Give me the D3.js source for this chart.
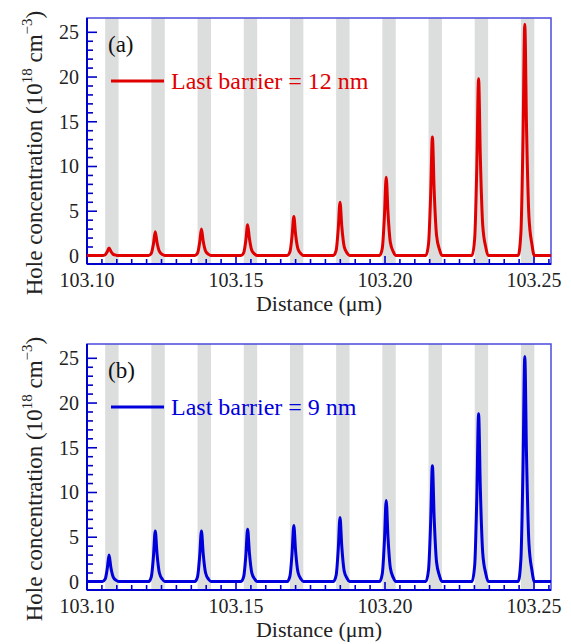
<!DOCTYPE html>
<html>
<head>
<meta charset="utf-8">
<script src="https://cdn.jsdelivr.net/npm/d3@7"></script>
<style>
  body { margin: 0; background: #fff; }
  svg { display: block; }
  text { font-family: "Liberation Serif", "Times New Roman", serif; }
</style>
</head>
<body>
<div id="chart"></div>
<script>
// x tick labels and y ticks
const xTicks = [103.10, 103.15, 103.20, 103.25];
const yTicks = [0, 5, 10, 15, 20, 25];

// grey bands (start / end in um)
const wellStart = [103.1061, 103.1216, 103.1371, 103.1526, 103.1681, 103.1836, 103.1991, 103.2146, 103.2301, 103.2456];
const wellEnd   = [103.1106, 103.1261, 103.1416, 103.1571, 103.1726, 103.1881, 103.2036, 103.2191, 103.2346, 103.2501];

// peak centres and the sample offsets around each centre
const peakX = [103.1074, 103.1229, 103.1384, 103.1539, 103.1694, 103.1849, 103.2004, 103.2159, 103.2314, 103.2469];
const peakOffset = [-0.0022, -0.0013, -0.0006, 0, 0.0006, 0.0014, 0.0024, 0.0032];

// hole concentration read around each peak, last barrier = 12 nm
const peaksA = [
  [0.05, 0.14, 0.47, 0.9, 0.52, 0.18, 0.08, 0.05],
  [0.05, 0.3, 1.35, 2.7, 1.5, 0.5, 0.15, 0.05],
  [0.05, 0.32, 1.5, 3.0, 1.65, 0.55, 0.17, 0.05],
  [0.05, 0.37, 1.75, 3.5, 1.95, 0.62, 0.2, 0.05],
  [0.05, 0.46, 2.2, 4.4, 2.4, 0.77, 0.24, 0.05],
  [0.05, 0.62, 3.0, 6.0, 3.3, 1.05, 0.32, 0.05],
  [0.05, 0.9, 4.4, 8.8, 4.85, 1.5, 0.46, 0.05],
  [0.05, 1.35, 6.65, 13.3, 7.3, 2.3, 0.7, 0.05],
  [0.05, 2.0, 9.9, 19.8, 10.9, 3.4, 1.0, 0.05],
  [0.05, 2.6, 12.9, 25.9, 14.2, 4.4, 1.3, 0.05]
];
// last barrier = 9 nm
const peaksB = [
  [0.05, 0.32, 1.5, 3.0, 1.65, 0.55, 0.17, 0.05],
  [0.05, 0.6, 2.85, 5.7, 3.15, 1.0, 0.3, 0.05],
  [0.05, 0.6, 2.85, 5.7, 3.15, 1.0, 0.3, 0.05],
  [0.05, 0.62, 2.95, 5.9, 3.25, 1.02, 0.31, 0.05],
  [0.05, 0.66, 3.15, 6.3, 3.45, 1.08, 0.33, 0.05],
  [0.05, 0.75, 3.6, 7.2, 3.95, 1.23, 0.38, 0.05],
  [0.05, 0.95, 4.55, 9.1, 5.0, 1.55, 0.47, 0.05],
  [0.05, 1.35, 6.5, 13.0, 7.15, 2.2, 0.67, 0.05],
  [0.05, 1.9, 9.4, 18.8, 10.3, 3.2, 0.96, 0.05],
  [0.05, 2.55, 12.6, 25.2, 13.9, 4.3, 1.3, 0.05]
];

const xDomain = [103.10, 103.2557];
const yDomain = [-0.9, 26.6];

const svg = d3.select("#chart").append("svg")
    .attr("width", 571)
    .attr("height", 644);

function buildSeries(peaks) {
    const pts = [[xDomain[0], 0.05]];
    peaks.forEach((vals, i) => {
        vals.forEach((v, j) => pts.push([peakX[i] + peakOffset[j], v]));
    });
    pts.push([xDomain[1], 0.05]);
    return pts;
}

function drawPanel(opt) {
    const left = 87, right = 551;
    const top = opt.top, bottom = opt.top + 246;

    const x = d3.scaleLinear().domain(xDomain).range([left, right]);
    const y = d3.scaleLinear().domain(yDomain).range([bottom, top]);

    const g = svg.append("g");

    g.append("clipPath").attr("id", "clip" + opt.id)
      .append("rect")
        .attr("x", left).attr("y", top)
        .attr("width", right - left).attr("height", bottom - top);

    // grey wells
    g.selectAll(".well")
      .data(wellStart)
      .join("rect")
        .attr("x", (d, i) => x(d))
        .attr("y", top)
        .attr("width", (d, i) => x(wellEnd[i]) - x(d))
        .attr("height", bottom - top)
        .attr("fill", "#dcdddd");

    // frame
    g.append("rect")
        .attr("x", left).attr("y", top)
        .attr("width", right - left).attr("height", bottom - top)
        .attr("fill", "none")
        .attr("stroke", "#4a4ae0")
        .attr("stroke-width", 1.5);

    // left axis: ticks inside
    const yAxis = g.append("g").attr("transform", `translate(${left},0)`);
    yAxis.selectAll(".minor")
      .data(d3.range(0, 26))
      .join("line")
        .attr("x1", 0).attr("x2", d => d % 5 === 0 ? 10 : 6)
        .attr("y1", d => y(d)).attr("y2", d => y(d))
        .attr("stroke", "#0000cc").attr("stroke-width", 1.6);
    yAxis.append("line")
        .attr("y1", top).attr("y2", bottom)
        .attr("stroke", "#0000cc").attr("stroke-width", 2);
    yAxis.selectAll(".lab")
      .data(yTicks)
      .join("text")
        .attr("x", -8)
        .attr("y", d => y(d))
        .attr("dy", "0.35em")
        .attr("text-anchor", "end")
        .attr("font-size", 20)
        .attr("fill", "#222")
        .text(d => d);

    // bottom axis: ticks inside
    const xAxis = g.append("g").attr("transform", `translate(0,${bottom})`);
    xAxis.selectAll(".minor")
      .data(d3.range(0, 32))
      .join("line")
        .attr("x1", d => x(103.10 + d * 0.005)).attr("x2", d => x(103.10 + d * 0.005))
        .attr("y1", 0).attr("y2", d => d % 10 === 0 ? -8 : -5)
        .attr("stroke", "#0000cc").attr("stroke-width", 1.6);
    xAxis.append("line")
        .attr("x1", left).attr("x2", right)
        .attr("stroke", "#0000cc").attr("stroke-width", 2);
    xAxis.selectAll(".lab")
      .data(xTicks)
      .join("text")
        .attr("x", d => x(d))
        .attr("y", 23)
        .attr("text-anchor", "middle")
        .attr("font-size", 20)
        .attr("fill", "#222")
        .text(d => d3.format(".2f")(d));

    // curve
    const line = d3.line().curve(d3.curveMonotoneX).x(d => x(d[0])).y(d => y(d[1]));
    g.append("path")
        .datum(buildSeries(opt.peaks))
        .attr("clip-path", `url(#clip${opt.id})`)
        .attr("d", line)
        .attr("fill", "none")
        .attr("stroke", opt.color)
        .attr("stroke-width", 3)
        .attr("stroke-linejoin", "round");

    // panel label and legend
    g.append("text")
        .attr("x", 108).attr("y", top + 34)
        .attr("font-size", 23).attr("fill", "#111")
        .text(opt.label);
    g.append("line")
        .attr("x1", 111).attr("x2", 164)
        .attr("y1", top + 63).attr("y2", top + 63)
        .attr("stroke", opt.color).attr("stroke-width", 3);
    g.append("text")
        .attr("x", 171).attr("y", top + 71)
        .attr("font-size", 24).attr("fill", opt.color)
        .text(opt.legend);

    // axis titles
    g.append("text")
        .attr("x", (left + right) / 2).attr("y", bottom + 47)
        .attr("text-anchor", "middle")
        .attr("font-size", 22).attr("fill", "#222")
        .text("Distance (\u03bcm)");

    const yt = g.append("text")
        .attr("transform", `translate(42,${(top + bottom) / 2 + 12}) rotate(-90)`)
        .attr("text-anchor", "middle")
        .attr("font-size", 23).attr("fill", "#222");
    yt.append("tspan").text("Hole concentration (10");
    yt.append("tspan").attr("font-size", 15).attr("dy", -10).text("18");
    yt.append("tspan").attr("dy", 10).text(" cm");
    yt.append("tspan").attr("font-size", 15).attr("dy", -10).text("\u22123");
    yt.append("tspan").attr("dy", 10).text(")");
}

drawPanel({ id: "a", top: 18, peaks: peaksA, color: "#e00000", label: "(a)", legend: "Last barrier = 12 nm" });
drawPanel({ id: "b", top: 344, peaks: peaksB, color: "#0000dd", label: "(b)", legend: "Last barrier = 9 nm" });
</script>
</body>
</html>
